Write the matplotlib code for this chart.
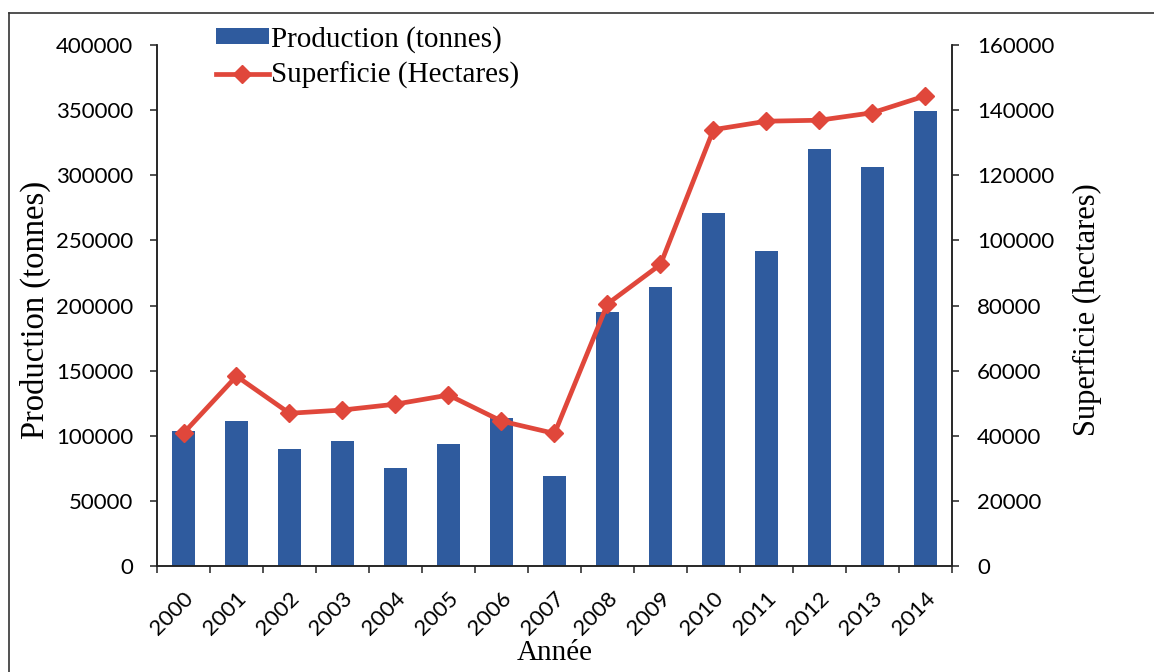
import matplotlib
matplotlib.use("Agg")
import matplotlib.pyplot as plt
from matplotlib.lines import Line2D
from matplotlib.transforms import ScaledTranslation
import numpy as np

years = ["2000", "2001", "2002", "2003", "2004", "2005", "2006", "2007",
         "2008", "2009", "2010", "2011", "2012", "2013", "2014"]
production = [104000, 111000, 90000, 96000, 75000, 94000, 114000, 69000,
              195000, 214000, 271000, 242000, 320000, 306000, 349000]
superficie = [40800, 58300, 46900, 47900, 49700, 52500, 44500, 40700,
              80500, 92600, 134000, 136600, 136900, 139200, 144400]
left_ticks = [0, 50000, 100000, 150000, 200000, 250000, 300000, 350000, 400000]
right_ticks = [0, 20000, 40000, 60000, 80000, 100000, 120000, 140000, 160000]

BAR = "#2F5B9E"
RED = "#E0473B"
serif = ["Liberation Serif", "DejaVu Serif"]
sans = ["Lato", "DejaVu Sans"]

fig = plt.figure(figsize=(11.54, 6.72), dpi=100)
W, H = 1154, 672
ax = fig.add_axes([157 / W, 1 - 566 / H, (952 - 157) / W, (566 - 45) / H])
ax2 = ax.twinx()

x = np.arange(len(years))
b = ax.bar(x, production, width=0.42, color=BAR, zorder=2,
           label="Production (tonnes)")
l, = ax2.plot(x, superficie, color=RED, lw=3.4, marker="D", markersize=9.5,
              markerfacecolor=RED, markeredgecolor=RED, zorder=3,
              label="Superficie (Hectares)")

ax.set_xlim(-0.5, len(years) - 0.5)
ax.set_ylim(0, 400000)
ax2.set_ylim(0, 160000)
ax.set_yticks(left_ticks)
ax2.set_yticks(right_ticks)
ax.set_yticklabels([str(v) for v in left_ticks], family=sans, fontsize=16)
ax2.set_yticklabels([str(v) for v in right_ticks], family=sans, fontsize=16)

ax.set_xticks(x)
ax.set_xticklabels(years, rotation=45, ha="right", va="top",
                   rotation_mode="anchor", family=sans, fontsize=16)
shift = ScaledTranslation(-11 / 100, 0, fig.dpi_scale_trans)
for t in ax.get_xticklabels():
    t.set_transform(t.get_transform() + shift)
ax.tick_params(axis="x", which="major", length=0, pad=16)
ax.set_xticks(np.arange(-0.5, len(years), 1.0), minor=True)
ax.tick_params(axis="x", which="minor", length=5, width=1.1, direction="out",
               color="#222222")
ax.tick_params(axis="y", length=5, width=1.1, direction="out", pad=12,
               color="#222222")
ax2.tick_params(axis="y", length=5, width=1.1, direction="out", pad=13,
                color="#222222")

for a in (ax, ax2):
    a.spines["top"].set_visible(False)
    for s in ("left", "right", "bottom"):
        a.spines[s].set_linewidth(1.1)
        a.spines[s].set_color("#222222")

ax.set_ylabel("Production (tonnes)", family=serif, fontsize=23.5)
ax.yaxis.set_label_coords((51 - 157) / 795, (566 - 310) / 521)
ax2.set_ylabel("Superficie (hectares)", family=serif, fontsize=22)
ax2.yaxis.set_label_coords((1073 - 157) / 795, (566 - 310) / 521)
ax.set_xlabel("Année", family=serif, fontsize=21)
ax.xaxis.set_label_coords(0.5, (566 - 640) / 521)

leg = fig.legend(handles=[b, l], loc="upper left",
                 bbox_to_anchor=(216 / W, 1 - 26 / H),
                 frameon=False, prop={"family": serif, "size": 21},
                 handlelength=1.8, handleheight=0.45, handletextpad=0.1,
                 labelspacing=0.3, borderpad=0, borderaxespad=0)

# outer figure border (top and left edges visible in reference)
fig.add_artist(Line2D([9 / W, 9 / W], [0, 1 - 13 / H], transform=fig.transFigure,
                      color="#333333", lw=1.2))
fig.add_artist(Line2D([9 / W, 1], [1 - 13 / H, 1 - 13 / H], transform=fig.transFigure,
                      color="#333333", lw=1.2))

fig.savefig("out.png", dpi=100)
